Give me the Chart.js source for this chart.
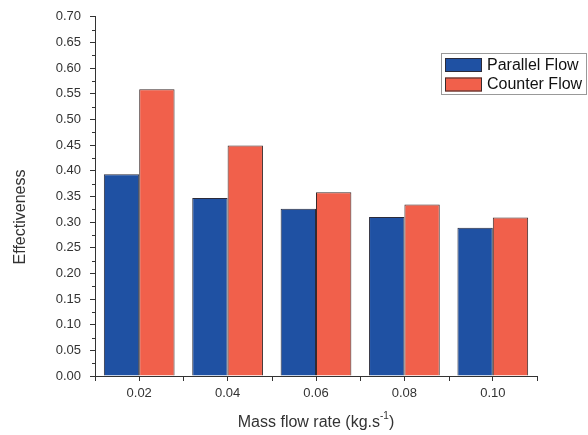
<!DOCTYPE html>
<html>
<head>
<meta charset="utf-8">
<script src="https://cdn.jsdelivr.net/npm/chart.js@4"></script>
<style>
    html, body { margin: 0; padding: 0; background: #fff; }
    #wrap { width: 588px; height: 435px; }
</style>
</head>
<body>
<div id="wrap"><canvas id="effChart" width="588" height="435"></canvas></div>
<script>
// Data
const flowRates = ['0.02', '0.04', '0.06', '0.08', '0.10'];
const parallelFlow = [0.393, 0.347, 0.326, 0.310, 0.289];
const counterFlow = [0.559, 0.449, 0.358, 0.334, 0.309];
const seriesNames = ['Parallel Flow', 'Counter Flow'];

const AXIS_COLOR = '#333';
const TEXT_COLOR = '#333';
const FONT = 'Liberation Sans, Arial, sans-serif';

// Minor ticks, axis titles and the boxed legend
const extrasPlugin = {
    id: 'extras',
    afterDraw(chart) {
        const ctx = chart.ctx;
        const area = chart.chartArea;
        const x = chart.scales.x;
        const y = chart.scales.y;
        ctx.save();
        ctx.strokeStyle = AXIS_COLOR;
        ctx.lineWidth = 1;

        // y minor ticks halfway between labels
        ctx.beginPath();
        for (let v = 0.025; v < 0.7; v += 0.05) {
            const py = Math.round(y.getPixelForValue(v)) + 0.5;
            ctx.moveTo(area.left - 3, py);
            ctx.lineTo(area.left, py);
        }
        // x ticks at the category boundaries
        for (let i = 0; i <= flowRates.length; i++) {
            const px = Math.round(x.getPixelForValue(i - 0.5)) + 0.5;
            ctx.moveTo(px, area.bottom);
            ctx.lineTo(px, area.bottom + 5);
        }
        ctx.stroke();

        // axis titles
        ctx.fillStyle = TEXT_COLOR;
        ctx.font = '16px ' + FONT;
        ctx.textBaseline = 'alphabetic';
        const main = 'Mass flow rate (kg.s';
        const sup = '-1';
        const close = ')';
        ctx.font = '16px ' + FONT;
        const wMain = ctx.measureText(main).width;
        const wClose = ctx.measureText(close).width;
        ctx.font = '10px ' + FONT;
        const wSup = ctx.measureText(sup).width;
        let tx = (area.left + area.right) / 2 - (wMain + wSup + wClose) / 2;
        const ty = 427;
        ctx.font = '16px ' + FONT;
        ctx.textAlign = 'left';
        ctx.fillText(main, tx, ty);
        tx += wMain;
        ctx.font = '10px ' + FONT;
        ctx.fillText(sup, tx, ty - 8);
        tx += wSup;
        ctx.font = '16px ' + FONT;
        ctx.fillText(close, tx, ty);

        ctx.save();
        ctx.translate(25, 217);
        ctx.rotate(-Math.PI / 2);
        ctx.textAlign = 'center';
        ctx.fillText('Effectiveness', 0, 0);
        ctx.restore();

        // legend box
        const bx = 441.5, by = 53.5, bw = 145, bh = 41;
        ctx.strokeStyle = '#999';
        ctx.strokeRect(bx, by, bw, bh);
        chart.data.datasets.forEach(function(ds, i) {
            const ry = 58 + i * 19.5;
            ctx.fillStyle = ds.backgroundColor;
            ctx.fillRect(445, ry, 37, 14);
            ctx.strokeStyle = ds.borderColor;
            ctx.strokeRect(445.5, ry + 0.5, 36, 13);
            ctx.fillStyle = '#111';
            ctx.font = '16px ' + FONT;
            ctx.textAlign = 'left';
            ctx.textBaseline = 'middle';
            ctx.fillText(ds.label, 487, ry + 7.5);
        });
        ctx.restore();
    }
};

const chart = new Chart(document.getElementById('effChart'), {
    type: 'bar',
    data: {
        labels: flowRates,
        datasets: [
            {
                label: seriesNames[0],
                data: parallelFlow,
                backgroundColor: '#1f51a3',
                borderColor: '#2b2b3a',
                borderWidth: 1,
                barPercentage: 1.0,
                categoryPercentage: 0.8
            },
            {
                label: seriesNames[1],
                data: counterFlow,
                backgroundColor: '#f1604b',
                borderColor: '#3a2a2a',
                borderWidth: 1,
                barPercentage: 1.0,
                categoryPercentage: 0.8
            }
        ]
    },
    options: {
        responsive: false,
        animation: false,
        layout: {
            padding: { top: 10, right: 51, bottom: 0, left: 0 }
        },
        plugins: {
            legend: { display: false },
            tooltip: { enabled: false }
        },
        scales: {
            x: {
                afterFit: function(scale) { scale.height = 59; },
                grid: {
                    offset: false,
                    drawOnChartArea: false,
                    tickLength: 5,
                    tickColor: AXIS_COLOR
                },
                border: { color: AXIS_COLOR, width: 1 },
                ticks: {
                    color: TEXT_COLOR,
                    padding: 5,
                    font: { size: 13, family: FONT }
                }
            },
            y: {
                min: 0,
                max: 0.7,
                afterFit: function(scale) { scale.width = 95; },
                grid: {
                    drawOnChartArea: false,
                    tickLength: 5,
                    tickColor: AXIS_COLOR
                },
                border: { color: AXIS_COLOR, width: 1 },
                ticks: {
                    stepSize: 0.05,
                    autoSkip: false,
                    color: TEXT_COLOR,
                    padding: 9,
                    font: { size: 13, family: FONT },
                    callback: function(v) { return v.toFixed(2); }
                }
            }
        }
    },
    plugins: [extrasPlugin]
});
</script>
</body>
</html>
